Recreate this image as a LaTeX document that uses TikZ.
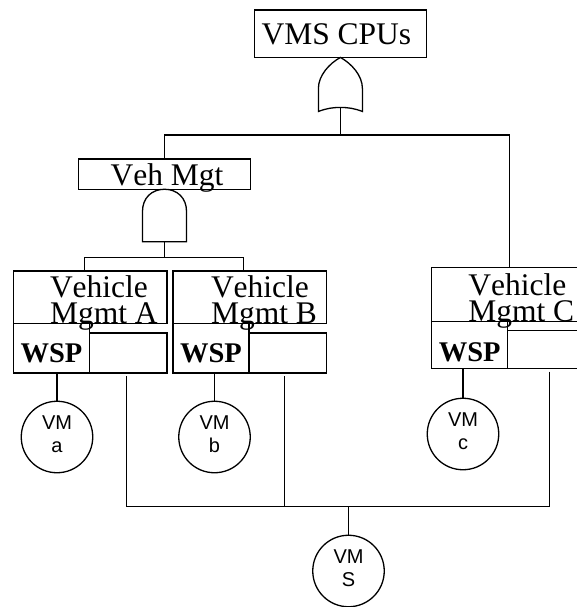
\documentclass[tikz,border=0pt]{standalone}
\usepackage{fontspec}
\setmainfont{Liberation Serif}[Kerning=Off]
\setsansfont{Liberation Sans}
\usetikzlibrary{positioning}
\begin{document}
\begin{tikzpicture}[
  x=1pt,y=-1pt,
  line width=1.3pt,
  every node/.style={inner sep=0pt,outer sep=0pt},
  topbox/.style={draw,font=\fontsize{31.5}{26.5}\selectfont,minimum width=172.5pt,text depth=12.5pt,text height=35pt},
  midbox/.style={draw,font=\fontsize{31.5}{26.5}\selectfont,minimum width=172.5pt,text depth=4pt,text height=26.3pt},
  vehbox/.style={draw,minimum width=153.5pt,anchor=north west},
  vehtext/.style={font=\fontsize{31.5}{26.5}\selectfont,align=left,anchor=base west},
  wspbox/.style={draw,minimum width=76pt,anchor=north west,font=\fontsize{28.5}{30}\selectfont\bfseries},
  sparebox/.style={draw,minimum width=77.5pt,anchor=south west},
  vmcircle/.style={draw,circle,minimum size=71.5pt,align=center,text depth=5pt,font=\fontsize{20}{23}\selectfont\sffamily},
  gateline/.style={draw,line join=miter}
]
\useasboundingbox (0,0) rectangle (577,607);

\node[topbox] (vms) at (340.4,33.7) {VMS CPUs\kern8pt};
\draw[gateline,shift={(vms.south)}] (0,0) .. controls (-11,6) and (-22,18) .. (-22,31) -- (-22,54) .. controls (-14,51) and (-8,50) .. (0,50) .. controls (8,50) and (14,51) .. (22,54) -- (22,31) .. controls (22,18) and (11,6) .. (0,0) -- cycle;
\coordinate[below=50pt of vms.south] (orout);
\coordinate[below=77.5pt of vms.south] (orbus);
\node[midbox] (vehmgt) at (164.5,174.1) {\kern5pt Veh Mgt};
\draw[gateline,shift={(vehmgt.south)}] (0,0) .. controls (-13,0) and (-22,9) .. (-22,22) -- (-22,52.5) -- (22,52.5) -- (22,22) .. controls (22,9) and (13,0) .. (0,0) -- cycle;
\coordinate[below=52.5pt of vehmgt.south] (andout);
\coordinate[below=68pt of vehmgt.south] (andbus);
\draw (orout) -- (orbus);
\draw (orbus) -| (vehmgt.north);

\node[vehbox,minimum height=52.5pt] (veha) at (13.5,271) {};
\node[vehtext,right=36.5pt of veha.south west,anchor=base west] (vehatext) {Vehicle\\Mgmt A};
\node[wspbox,minimum height=49.5pt,text height=38.5pt,text depth=11pt] (wspa) at (veha.south west) {WSP};
\node[sparebox,minimum height=40pt] (sparea) at (wspa.south east) {};
\node[vmcircle] (vma) at (57,437) {VM\\a};
\draw (vma.north) -- (vma.north |- wspa.south);
\coordinate[below=3pt of sparea.south,xshift=-2pt] (tapa);

\node[vehbox,minimum height=52.5pt] (vehb) at (173,271) {};
\node[vehtext,right=38pt of vehb.south west,anchor=base west] (vehbtext) {Vehicle\\Mgmt B};
\node[wspbox,minimum height=49.5pt,text height=38.5pt,text depth=11pt] (wspb) at (vehb.south west) {WSP};
\node[sparebox,minimum height=40pt] (spareb) at (wspb.south east) {};
\node[vmcircle] (vmb) at (214.5,437) {VM\\b};
\draw (vmb.north) -- (vmb.north |- wspb.south);
\coordinate[below=3pt of spareb.south,xshift=-3pt] (tapb);

\node[vehbox,minimum height=54.4pt] (vehc) at (431.7,267.3) {};
\node[vehtext,right=36.6pt of vehc.south west,anchor=base west] (vehctext) {Vehicle\\Mgmt C};
\node[wspbox,minimum height=47pt,text height=40pt,text depth=7pt] (wspc) at (vehc.south west) {WSP};
\node[sparebox,minimum height=38pt] (sparec) at (wspc.south east) {};
\node[vmcircle] (vmc) at (463,434) {VM\\c};
\draw (vmc.north) -- (vmc.north |- wspc.south);
\coordinate[below=3pt of sparec.south,xshift=3pt] (tapc);

\draw (andout) -- (andbus);
\draw (veha.north -| 84.5,0) |- (andbus);
\draw (andbus) -| (vehb.north -| 243.5,0);
\draw (orbus) -| (vehc.north -| 509.5,0);

\node[vmcircle] (vms2) at (348.5,571) {VM\\S};
\coordinate[above=29pt of vms2.north] (busjoin);
\draw (tapa) |- (busjoin);
\draw (tapc) |- (busjoin);
\draw (tapb) -- (tapb |- busjoin);
\draw (busjoin) -- (vms2.north);
\end{tikzpicture}
\end{document}
